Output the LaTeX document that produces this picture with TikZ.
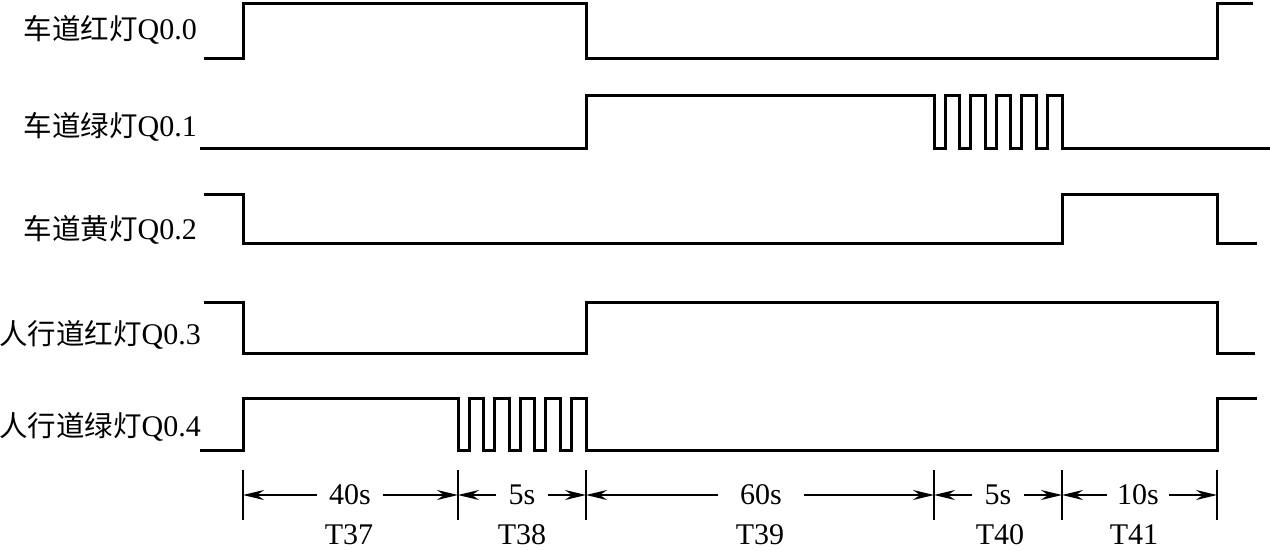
\documentclass[tikz,border=0pt]{standalone}
\usepackage{fontspec}
\setmainfont{Liberation Serif}
\newfontfamily\cjk[Scale=0.95]{Noto Sans CJK SC}
\usetikzlibrary{arrows.meta, positioning}
\tikzset{
  wave/.style={line width=3pt, line join=miter}, % the signal traces
  tickline/.style={line width=2pt}, % vertical time marks
  dim/.style={line width=1.8pt, -{Stealth[length=21pt,width=10pt,inset=7pt]}}, % duration arrows
  siglabel/.style={anchor=east, inner sep=0pt, font=\fontsize{30}{34}\selectfont},
  durlabel/.style={inner ysep=0pt, inner xsep=12pt, font=\fontsize{30}{34}\selectfont},
  timerlabel/.style={inner sep=0pt, font=\fontsize{30}{34}\selectfont},
}

\begin{document}
\begin{tikzpicture}[x=1pt, y=-1pt]
\useasboundingbox (0,0) rectangle (1270,550);

% signal names
\node[siglabel] (q00) at (197,30) {{\cjk 车道红灯}Q0.0};
\node[siglabel] (q01) at (197,127) {{\cjk 车道绿灯}Q0.1};
\node[siglabel] (q02) at (197,230) {{\cjk 车道黄灯}Q0.2};
\node[siglabel] (q03) at (201,335) {{\cjk 人行道红灯}Q0.3};
\node[siglabel] (q04) at (201,427) {{\cjk 人行道绿灯}Q0.4};

% waveforms
\draw[wave] (204,58) -- (243,58) -- (243,3) -- (586,3) -- (586,58) -- (1217,58) -- (1217,3) -- (1253,3);
\draw[wave] (200,148) -- (586,148) -- (586,95) -- (934,95)
  \foreach \k in {1,...,5}{ -- ++(0,53) -- ++(11,0) -- ++(0,-53) -- ++(14.6,0)}
  -- ++(0,53) -- (1270,148);
\draw[wave] (204,194) -- (243,194) -- (243,243) -- (1062,243) -- (1062,194) -- (1217,194) -- (1217,243) -- (1257,243);
\draw[wave] (204,302) -- (243,302) -- (243,353) -- (586,353) -- (586,302) -- (1217,302) -- (1217,353) -- (1255,353);
\draw[wave] (200,450) -- (243,450) -- (243,398) -- (458,398)
  \foreach \k in {1,...,5}{ -- ++(0,52) -- ++(11,0) -- ++(0,-52) -- ++(14.6,0)}
  -- ++(0,52) -- (1217,450) -- (1217,398) -- (1257,398);

% time marks
\foreach \x [count=\i from 0] in {243,458,586,934,1062,1217}{
  \draw[tickline] (\x,470) -- (\x,520);
  \coordinate (a\i) at (\x,495);
}

% durations
\node[durlabel] (d37) at (350,495) {40s};
\node[durlabel] (d38) at (522,495) {5s};
\node[durlabel, inner xsep=22pt] (d39) at (761,495) {60s};
\node[durlabel] (d40) at (998,495) {5s};
\node[durlabel, inner xsep=10pt] (d41) at (1138,495) {10s};
\draw[dim] (d37) -- (a0); \draw[dim] (d37) -- (a1);
\draw[dim] (d38) -- (a1); \draw[dim] (d38) -- (a2);
\draw[dim] (d39) -- (a2); \draw[dim] (d39) -- (a3);
\draw[dim] (d40) -- (a3); \draw[dim] (d40) -- (a4);
\draw[dim] (d41) -- (a4); \draw[dim] (d41) -- (a5);

% timers
\node[timerlabel] (t37) at (349,535) {T37};
\node[timerlabel] (t38) at (522,535) {T38};
\node[timerlabel] (t39) at (760,535) {T39};
\node[timerlabel] (t40) at (1000,535) {T40};
\node[timerlabel] (t41) at (1134,535) {T41};
\end{tikzpicture}
\end{document}
